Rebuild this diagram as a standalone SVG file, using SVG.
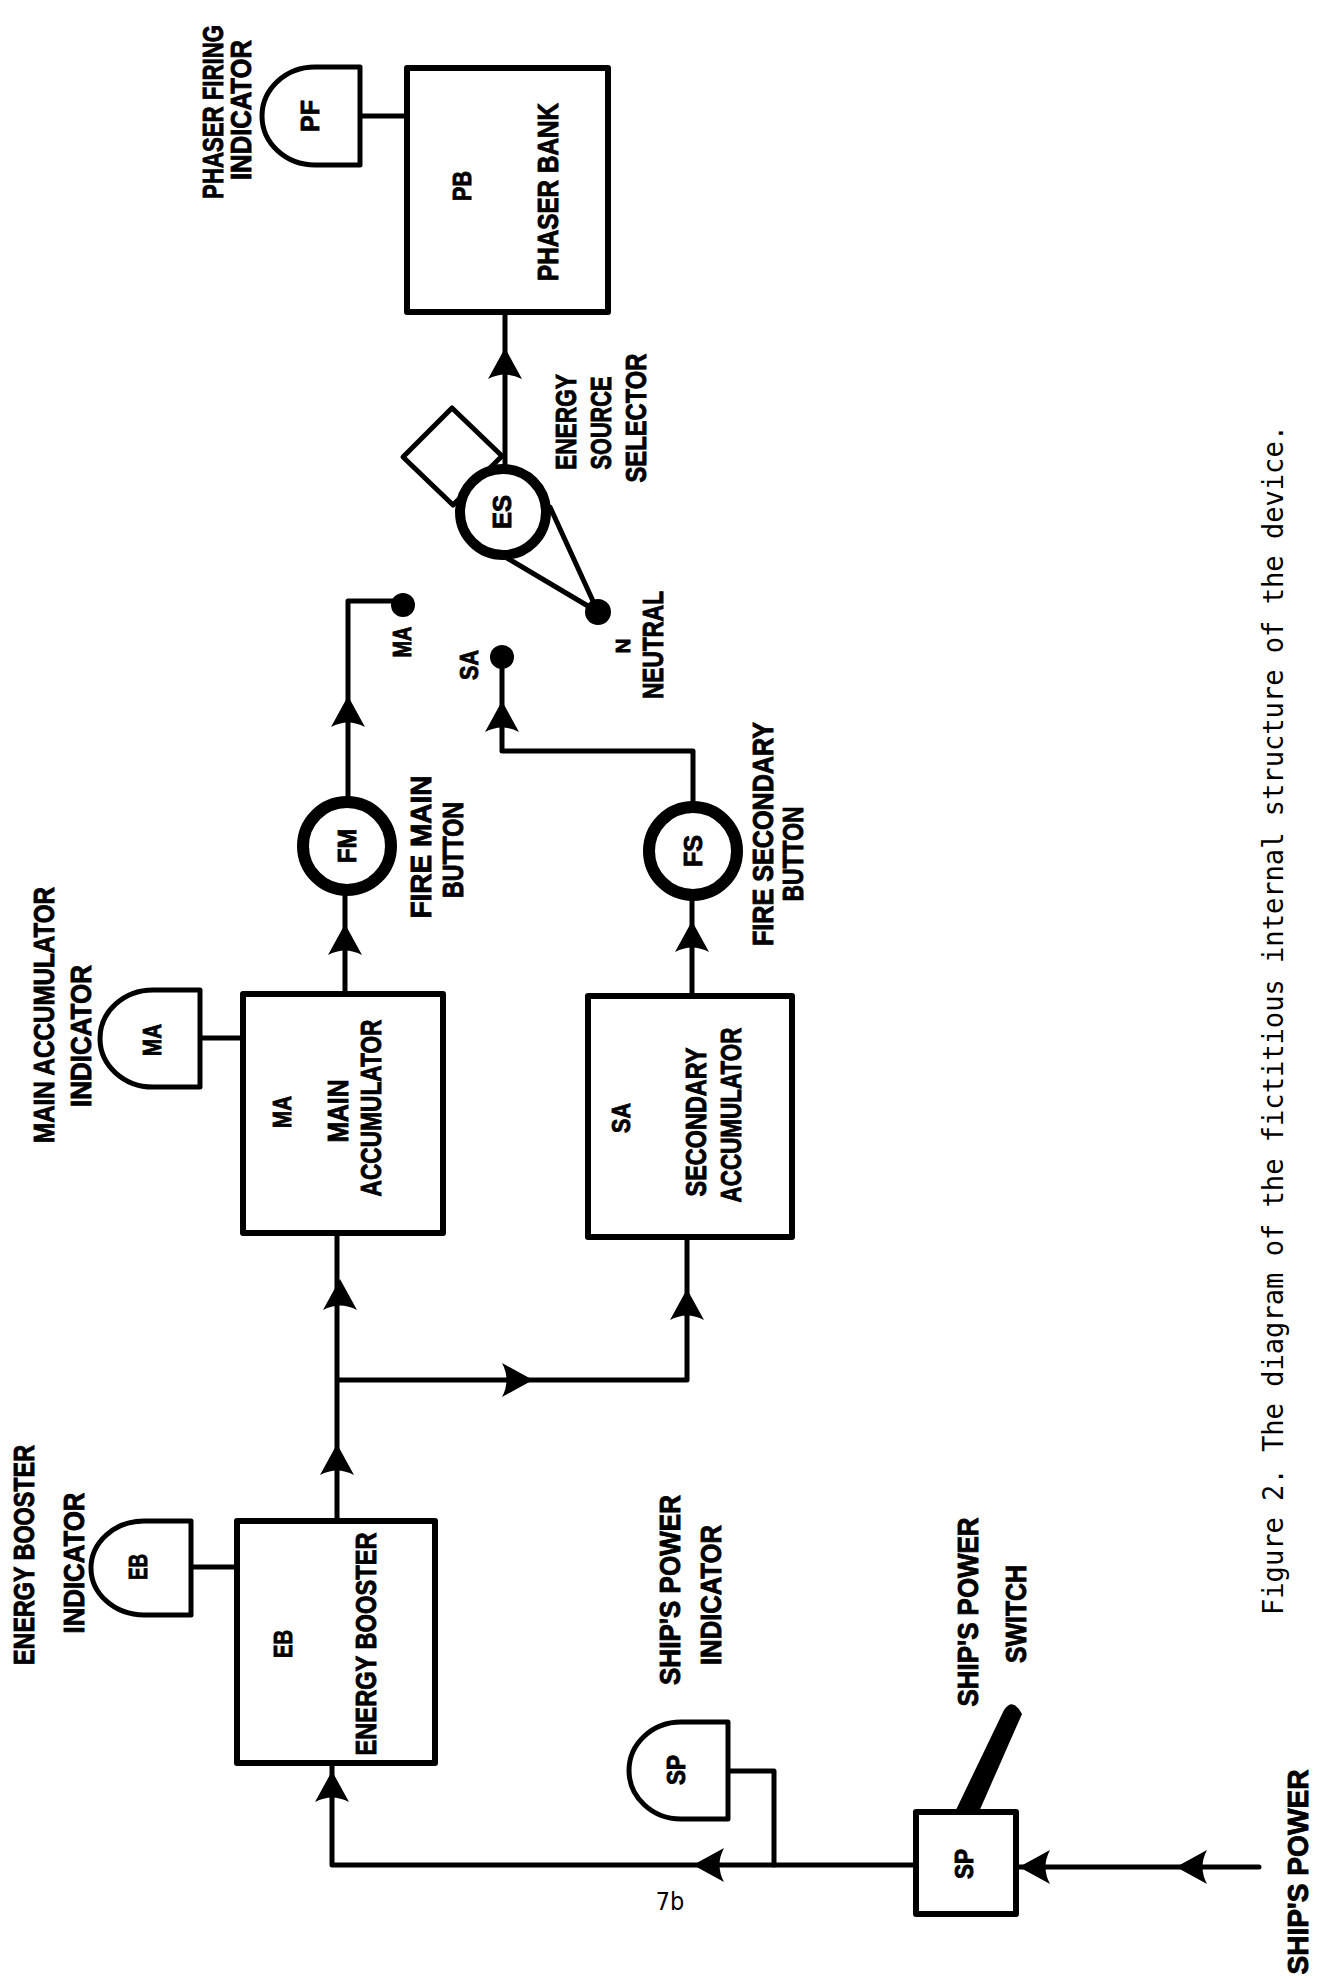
<svg xmlns="http://www.w3.org/2000/svg" xmlns:xlink="http://www.w3.org/1999/xlink" width="1328" height="1979" viewBox="0 0 1328 1979">
<style>
.ln{fill:none;stroke:#000;stroke-width:5;stroke-linejoin:round;stroke-linecap:round}
.bx{fill:#fff;stroke:#000;stroke-width:6;stroke-linejoin:round}
.ind{fill:#fff;stroke:#000;stroke-width:5;stroke-linejoin:round}
.ring{fill:#fff;stroke:#000;stroke-width:12}
.dot{fill:#000}
.lb{font-family:"Liberation Sans",Arial,sans-serif;font-weight:bold;font-size:30px;text-anchor:middle;fill:#000;stroke:#000;stroke-width:0.9}
.sm{font-size:26px}
.cap{font-family:"DejaVu Sans Mono","Liberation Mono",monospace;font-size:29px;text-anchor:middle;fill:#000}
</style>
<defs>
<path id="ah" d="M0,0 L17,31 Q0,22 -17,31 Z" fill="#000"/>
</defs>
<rect width="1328" height="1979" fill="#fff"/>

<g id="connectors">
<path class="ln" d="M360,116 H407"/>
<path class="ln" d="M505,312 V464"/>
<path class="ln" d="M550,507 L598,612 L507,558"/>
<path class="ln" d="M345,994 V896"/>
<path class="ln" d="M348,796 V601 H403"/>
<path class="ln" d="M692,996 V901"/>
<path class="ln" d="M693,801 V751 H502 V657"/>
<path class="ln" d="M337,1521 V1233"/>
<path class="ln" d="M338,1380 H687 V1237"/>
<path class="ln" d="M916,1865 H332 V1763"/>
<path class="ln" d="M728,1771 H774 V1865"/>
<path class="ln" d="M1259,1867 H1016"/>
<path class="ln" d="M191,1567 H237"/>
<path class="ln" d="M200,1038 H243"/>
<use xlink:href="#ah" transform="translate(505,348)"/>
<use xlink:href="#ah" transform="translate(348,696)"/>
<use xlink:href="#ah" transform="translate(345,924)"/>
<use xlink:href="#ah" transform="translate(692,921)"/>
<use xlink:href="#ah" transform="translate(502,701)"/>
<use xlink:href="#ah" transform="translate(340,1279)"/>
<use xlink:href="#ah" transform="translate(687,1289)"/>
<use xlink:href="#ah" transform="translate(533,1380) rotate(90)"/>
<use xlink:href="#ah" transform="translate(337,1444)"/>
<use xlink:href="#ah" transform="translate(332,1771)"/>
<use xlink:href="#ah" transform="translate(693,1865) rotate(-90)"/>
<use xlink:href="#ah" transform="translate(1019,1867) rotate(-90)"/>
<use xlink:href="#ah" transform="translate(1176,1867) rotate(-90)"/>
</g>

<g id="pf-indicator">
<path class="ind" d="M360,67 H315 A53 49 0 0 0 315,165 H360 Z"/>
<text class="lb sm" transform="translate(310,116) rotate(-90)" dy="0.36em" textLength="32" lengthAdjust="spacingAndGlyphs">PF</text>
<text class="lb" transform="translate(212,112) rotate(-90) scale(0.74,1)" dy="0.36em">PHASER FIRING</text>
<text class="lb" transform="translate(240,110) rotate(-90)" dy="0.36em" textLength="140" lengthAdjust="spacingAndGlyphs">INDICATOR</text>
</g>

<g id="phaser-bank">
<rect class="bx" x="407" y="68" width="201" height="244"/>
<text class="lb sm" transform="translate(462,186) rotate(-90)" dy="0.36em" textLength="30" lengthAdjust="spacingAndGlyphs">PB</text>
<text class="lb" transform="translate(547,192) rotate(-90)" dy="0.36em" textLength="178" lengthAdjust="spacingAndGlyphs">PHASER BANK</text>
</g>

<g id="energy-source-selector">
<polygon class="ind" points="403,457 452,408 502,456 453,505"/>
<circle cx="503" cy="512" r="43" fill="#fff" stroke="#000" stroke-width="10"/>
<text class="lb sm" transform="translate(502,512) rotate(-90)" dy="0.36em" textLength="34" lengthAdjust="spacingAndGlyphs">ES</text>
<text class="lb" transform="translate(565,422) rotate(-90)" dy="0.36em" textLength="96" lengthAdjust="spacingAndGlyphs">ENERGY</text>
<text class="lb" transform="translate(600,423) rotate(-90)" dy="0.36em" textLength="93" lengthAdjust="spacingAndGlyphs">SOURCE</text>
<text class="lb" transform="translate(635,418) rotate(-90)" dy="0.36em" textLength="129" lengthAdjust="spacingAndGlyphs">SELECTOR</text>
</g>

<g id="neutral">
<circle class="dot" cx="598" cy="612" r="13"/>
<text class="lb" style="font-size:21px" transform="translate(622,646) rotate(-90)" dy="0.36em" textLength="15" lengthAdjust="spacingAndGlyphs">N</text>
<text class="lb" transform="translate(652,645) rotate(-90)" dy="0.36em" textLength="108" lengthAdjust="spacingAndGlyphs">NEUTRAL</text>
</g>

<g id="ma-contact">
<circle class="dot" cx="403" cy="605" r="12"/>
<text class="lb sm" transform="translate(402,642) rotate(-90)" dy="0.36em" textLength="31" lengthAdjust="spacingAndGlyphs">MA</text>
</g>

<g id="sa-contact">
<circle class="dot" cx="502" cy="657" r="12"/>
<text class="lb sm" transform="translate(469,665) rotate(-90)" dy="0.36em" textLength="30" lengthAdjust="spacingAndGlyphs">SA</text>
</g>

<g id="fire-main-button">
<circle class="ring" cx="347" cy="846" r="44"/>
<text class="lb sm" transform="translate(347,846) rotate(-90)" dy="0.36em" textLength="34" lengthAdjust="spacingAndGlyphs">FM</text>
<text class="lb" transform="translate(420,847) rotate(-90)" dy="0.36em" textLength="143" lengthAdjust="spacingAndGlyphs">FIRE MAIN</text>
<text class="lb" transform="translate(452,850) rotate(-90)" dy="0.36em" textLength="96" lengthAdjust="spacingAndGlyphs">BUTTON</text>
</g>

<g id="fire-secondary-button">
<circle class="ring" cx="693" cy="851" r="44"/>
<text class="lb sm" transform="translate(693,851) rotate(-90)" dy="0.36em" textLength="32" lengthAdjust="spacingAndGlyphs">FS</text>
<text class="lb" transform="translate(762,834) rotate(-90)" dy="0.36em" textLength="224" lengthAdjust="spacingAndGlyphs">FIRE SECONDARY</text>
<text class="lb" transform="translate(792,854) rotate(-90)" dy="0.36em" textLength="95" lengthAdjust="spacingAndGlyphs">BUTTON</text>
</g>

<g id="ma-indicator">
<path class="ind" d="M200,990 H153 A53 48.5 0 0 0 153,1087 H200 Z"/>
<text class="lb sm" transform="translate(152,1040) rotate(-90)" dy="0.36em" textLength="32" lengthAdjust="spacingAndGlyphs">MA</text>
<text class="lb" transform="translate(43,1015) rotate(-90)" dy="0.36em" textLength="256" lengthAdjust="spacingAndGlyphs">MAIN ACCUMULATOR</text>
<text class="lb" transform="translate(80,1036) rotate(-90)" dy="0.36em" textLength="142" lengthAdjust="spacingAndGlyphs">INDICATOR</text>
</g>

<g id="main-accumulator">
<rect class="bx" x="243" y="994" width="200" height="239"/>
<text class="lb sm" transform="translate(282,1112) rotate(-90)" dy="0.36em" textLength="32" lengthAdjust="spacingAndGlyphs">MA</text>
<text class="lb" transform="translate(337,1111) rotate(-90)" dy="0.36em" textLength="63" lengthAdjust="spacingAndGlyphs">MAIN</text>
<text class="lb" transform="translate(370,1108) rotate(-90)" dy="0.36em" textLength="177" lengthAdjust="spacingAndGlyphs">ACCUMULATOR</text>
</g>

<g id="secondary-accumulator">
<rect class="bx" x="588" y="996" width="204" height="241"/>
<text class="lb sm" transform="translate(621,1118) rotate(-90)" dy="0.36em" textLength="30" lengthAdjust="spacingAndGlyphs">SA</text>
<text class="lb" transform="translate(695,1122) rotate(-90)" dy="0.36em" textLength="149" lengthAdjust="spacingAndGlyphs">SECONDARY</text>
<text class="lb" transform="translate(730,1115) rotate(-90)" dy="0.36em" textLength="175" lengthAdjust="spacingAndGlyphs">ACCUMULATOR</text>
</g>

<g id="eb-indicator">
<path class="ind" d="M191,1521 H144 A53 47 0 0 0 144,1615 H191 Z"/>
<text class="lb sm" transform="translate(138,1567) rotate(-90)" dy="0.36em" textLength="26" lengthAdjust="spacingAndGlyphs">EB</text>
<text class="lb" transform="translate(23,1555) rotate(-90)" dy="0.36em" textLength="220" lengthAdjust="spacingAndGlyphs">ENERGY BOOSTER</text>
<text class="lb" transform="translate(73,1563) rotate(-90)" dy="0.36em" textLength="141" lengthAdjust="spacingAndGlyphs">INDICATOR</text>
</g>

<g id="energy-booster">
<rect class="bx" x="237" y="1521" width="198" height="242"/>
<text class="lb sm" transform="translate(283,1644) rotate(-90)" dy="0.36em" textLength="28" lengthAdjust="spacingAndGlyphs">EB</text>
<text class="lb" transform="translate(365,1644) rotate(-90)" dy="0.36em" textLength="223" lengthAdjust="spacingAndGlyphs">ENERGY BOOSTER</text>
</g>

<g id="sp-indicator">
<path class="ind" d="M728,1722 H681 A52 48.5 0 0 0 681,1819 H728 Z"/>
<text class="lb sm" transform="translate(676,1770) rotate(-90)" dy="0.36em" textLength="30" lengthAdjust="spacingAndGlyphs">SP</text>
<text class="lb" transform="translate(669,1590) rotate(-90)" dy="0.36em" textLength="190" lengthAdjust="spacingAndGlyphs">SHIP'S POWER</text>
<text class="lb" transform="translate(710,1595) rotate(-90)" dy="0.36em" textLength="140" lengthAdjust="spacingAndGlyphs">INDICATOR</text>
</g>

<g id="sp-switch">
<path d="M954,1814 L1004,1710 Q1013,1697 1022,1714 L978,1814 Z" fill="#000"/>
<rect class="bx" x="916" y="1812" width="100" height="102"/>
<text class="lb sm" transform="translate(964,1864) rotate(-90)" dy="0.36em" textLength="30" lengthAdjust="spacingAndGlyphs">SP</text>
<text class="lb" transform="translate(967,1612) rotate(-90)" dy="0.36em" textLength="189" lengthAdjust="spacingAndGlyphs">SHIP'S POWER</text>
<text class="lb" transform="translate(1015,1614) rotate(-90)" dy="0.36em" textLength="98" lengthAdjust="spacingAndGlyphs">SWITCH</text>
</g>

<g id="ships-power-source">
<text class="lb" transform="translate(1297,1872) rotate(-90)" dy="0.36em" textLength="205" lengthAdjust="spacingAndGlyphs">SHIP'S POWER</text>
</g>

<g id="page-texts">
<text x="670" y="1910" style="font-family:'DejaVu Sans Condensed','DejaVu Sans',sans-serif;font-size:25px;text-anchor:middle">7b</text>
<text class="cap" transform="translate(1273,1020) rotate(-90)" dy="0.36em" textLength="1190" lengthAdjust="spacingAndGlyphs">Figure 2. The diagram of the fictitious internal structure of the device.</text>
</g>
</svg>
